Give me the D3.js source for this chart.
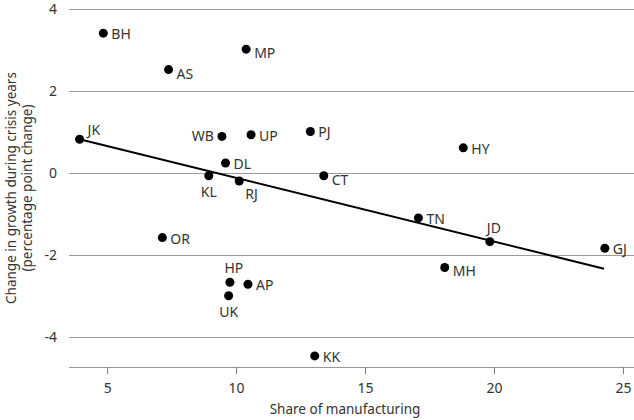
<!DOCTYPE html>
<html>
<head>
<meta charset="utf-8">
<script src="https://cdn.jsdelivr.net/npm/d3@7"></script>
<style>
  body { margin: 0; background: #fff; }
  text { font-family: "Noto Sans", sans-serif; fill: #333; }
</style>
</head>
<body>
<script>
// state codes, share of manufacturing, change in growth
const states = ["BH", "MP", "AS", "JK", "WB", "UP", "PJ", "DL", "KL", "RJ", "HY",
                "CT", "OR", "HP", "AP", "UK", "KK", "TN", "JD", "GJ", "MH"];
const manufShare = [4.85, 10.39, 7.38, 3.93, 9.45, 10.58, 12.88, 9.59, 8.94, 10.12, 18.81,
                    13.40, 7.14, 9.76, 10.46, 9.71, 13.05, 17.07, 19.84, 24.30, 18.09];
const growthChange = [3.41, 3.02, 2.52, 0.82, 0.89, 0.93, 1.01, 0.24, -0.07, -0.20, 0.61,
                      -0.07, -1.58, -2.67, -2.72, -3.00, -4.47, -1.10, -1.68, -1.84, -2.31];

// fitted line, end points
const trendX = [3.93, 24.27];
const trendY = [0.82, -2.34];

const xTicks = [5, 10, 15, 20, 25];
const yTicks = [-4, -2, 0, 2, 4];

// where the label sits relative to the dot
const labelSide = {
    WB: "left", KL: "below", RJ: "belowRight", HP: "above", UK: "below",
    JD: "above", JK: "aboveRight", MP: "rightLow", AS: "rightLow",
    CT: "rightLow", MH: "rightLow"
};

const width = 634, height = 420;
const margin = {top: 9, right: 0, bottom: 53, left: 69};

const svg = d3.select("body")
    .append("svg")
    .attr("width", width)
    .attr("height", height);

const x = d3.scaleLinear()
    .domain([3.52, 25.43])
    .range([margin.left, width - margin.right]);

const y = d3.scaleLinear()
    .domain([-4.74, 4])
    .range([height - margin.bottom, margin.top]);

// horizontal grid
svg.append("g")
    .selectAll("line")
    .data(yTicks)
    .enter()
    .append("line")
    .attr("x1", margin.left)
    .attr("x2", width)
    .attr("y1", function (d) { return Math.round(y(d)) + 0.5; })
    .attr("y2", function (d) { return Math.round(y(d)) + 0.5; })
    .style("stroke", "#9a9a9a")
    .style("stroke-width", 1);

// y tick labels
svg.append("g")
    .selectAll("text")
    .data(yTicks)
    .enter()
    .append("text")
    .attr("x", 57)
    .attr("y", function (d) { return y(d); })
    .attr("dy", "0.35em")
    .attr("text-anchor", "end")
    .attr("font-size", "14px")
    .text(function (d) { return d; });

// bottom axis
const xAxis = svg.append("g")
    .attr("transform", "translate(0," + (height - margin.bottom) + ")")
    .call(d3.axisBottom(x).tickValues(xTicks).tickSize(7).tickPadding(9));

xAxis.select(".domain")
    .attr("d", "M" + margin.left + ",0.5H" + width)
    .style("stroke", "#9a9a9a");
xAxis.selectAll(".tick line").style("stroke", "#777");
xAxis.selectAll(".tick text")
    .attr("font-size", "14px")
    .style("font-family", "'Noto Sans', sans-serif")
    .style("fill", "#333");

// axis titles
svg.append("text")
    .attr("x", 345)
    .attr("y", 414)
    .attr("text-anchor", "middle")
    .attr("font-size", "13.5px")
    .text("Share of manufacturing");

const yTitle = svg.append("text")
    .attr("transform", "translate(16," + ((margin.top + height - margin.bottom) / 2) + ") rotate(-90)")
    .attr("text-anchor", "middle")
    .attr("font-size", "13.5px");
yTitle.append("tspan").attr("x", 0).attr("dy", 0).text("Change in growth during crisis years");
yTitle.append("tspan").attr("x", 0).attr("dy", "1.15em").text("(percentage point change)");

// trend line
const trend = trendX.map(function (d, i) { return [d, trendY[i]]; });
svg.append("path")
    .datum(trend)
    .attr("d", d3.line()
        .x(function (d) { return x(d[0]); })
        .y(function (d) { return y(d[1]); }))
    .style("stroke", "#000")
    .style("stroke-width", 2)
    .style("fill", "none");

const points = states.map(function (s, i) {
    return {name: s, x: manufShare[i], y: growthChange[i]};
});

svg.append("g")
    .selectAll("circle")
    .data(points)
    .enter()
    .append("circle")
    .attr("cx", function (d) { return x(d.x); })
    .attr("cy", function (d) { return y(d.y); })
    .attr("r", 4.5)
    .style("fill", "#000");

function labelPos(d) {
    const side = labelSide[d.name] || "right";
    const px = x(d.x), py = y(d.y);
    if (side === "left") return {x: px - 8, y: py + 5, anchor: "end"};
    if (side === "below") return {x: px, y: py + 21, anchor: "middle"};
    if (side === "belowRight") return {x: px + 6, y: py + 18, anchor: "start"};
    if (side === "above") return {x: px + 4, y: py - 9, anchor: "middle"};
    if (side === "aboveRight") return {x: px + 8, y: py - 4, anchor: "start"};
    if (side === "rightLow") return {x: px + 8, y: py + 9, anchor: "start"};
    return {x: px + 8, y: py + 6, anchor: "start"};
}

svg.append("g")
    .selectAll("text")
    .data(points)
    .enter()
    .append("text")
    .attr("x", function (d) { return labelPos(d).x; })
    .attr("y", function (d) { return labelPos(d).y; })
    .attr("text-anchor", function (d) { return labelPos(d).anchor; })
    .attr("font-size", "14px")
    .text(function (d) { return d.name; });
</script>
</body>
</html>
